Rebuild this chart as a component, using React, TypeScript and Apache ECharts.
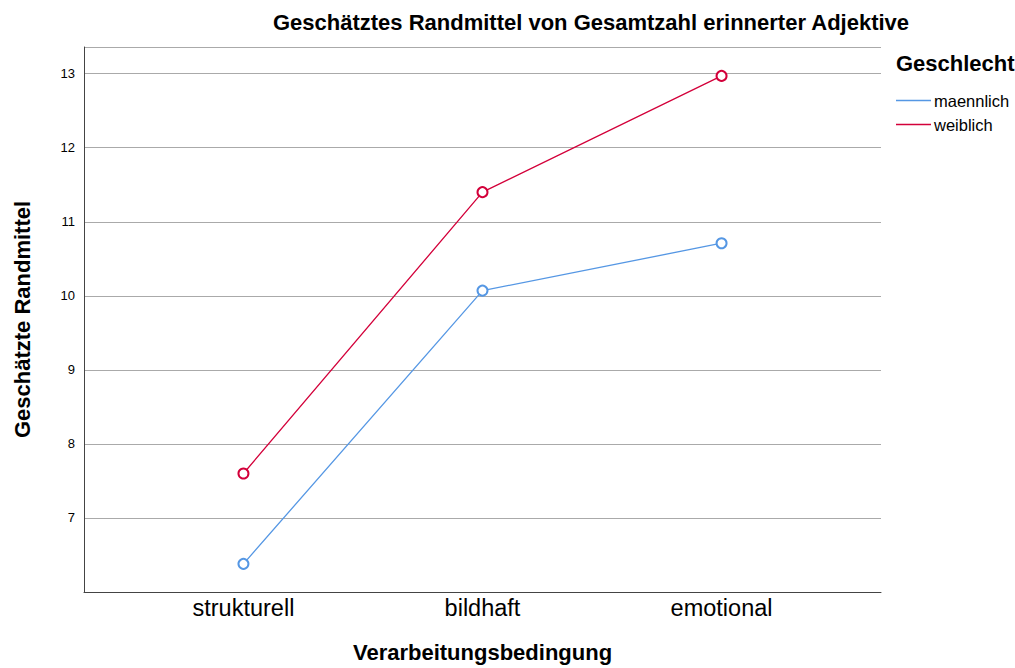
import React, { useEffect, useRef } from "react";
import * as echarts from "echarts";

const categories = ["strukturell", "bildhaft", "emotional"];
const maennlich = [6.38, 10.07, 10.71];
const weiblich = [7.6, 11.4, 12.97];
const seriesNames = ["maennlich", "weiblich"];
const colors = ["#5597E4", "#D3003A"];
const FONT = "'Liberation Sans', Arial, Helvetica, sans-serif";

export default function App() {
  const ref = useRef<HTMLDivElement>(null);
  useEffect(() => {
    if (!ref.current) return;
    const chart = echarts.init(ref.current, undefined, { renderer: "svg" });
    const mk = (name: string, vals: number[], color: string) => ({
      name,
      type: "line",
      data: vals.map((v, i) => [i, v]),
      symbol: "emptyCircle",
      symbolSize: 10,
      lineStyle: { color, width: 1.3 },
      itemStyle: { color, borderColor: color, borderWidth: 1.3 },
      emphasis: { disabled: true },
    });
    chart.setOption({
      animation: false,
      backgroundColor: "#ffffff",
      textStyle: { fontFamily: FONT },
      title: [
        {
          text: "Geschätztes Randmittel von Gesamtzahl erinnerter Adjektive",
          left: 586,
          top: 6,
          textAlign: "center",
          textStyle: { fontFamily: FONT, fontSize: 22, fontWeight: "bold", color: "#000" },
        },
        {
          text: "Geschlecht",
          left: 891,
          top: 47,
          textStyle: { fontFamily: FONT, fontSize: 22, fontWeight: "bold", color: "#000" },
        },
      ],
      legend: {
        orient: "vertical",
        left: 891,
        top: 87,
        itemWidth: 35,
        itemHeight: 1.3,
        itemGap: 7,
        icon: "rect",
        itemStyle: { borderWidth: 0 },
        data: seriesNames.map((n, i) => ({
          name: n,
          itemStyle: { color: colors[i], borderWidth: 0 },
        })),
        textStyle: { fontFamily: FONT, fontSize: 16.5, color: "#000", padding: [0, 0, 0, -2] },
      },
      grid: { left: 84, right: 134, top: 47, bottom: 71, containLabel: false },
      xAxis: {
        type: "value",
        min: -0.667,
        max: 2.667,
        name: "Verarbeitungsbedingung",
        nameLocation: "middle",
        nameGap: 49,
        nameTextStyle: { fontFamily: FONT, fontSize: 22, fontWeight: "bold", color: "#000" },
        axisLine: { show: true, onZero: false, lineStyle: { color: "#444", width: 1 } },
        axisTick: { show: false },
        splitLine: { show: false },
        axisLabel: {
          customValues: [0, 1, 2],
          formatter: (v: number) => categories[Math.round(v)] ?? "",
          fontFamily: FONT,
          fontSize: 23.5,
          color: "#000",
          margin: 4,
        },
      },
      yAxis: {
        type: "value",
        min: 6,
        max: 13.36,
        interval: 1,
        name: "Geschätzte Randmittel",
        nameLocation: "middle",
        nameGap: 51,
        nameTextStyle: { fontFamily: FONT, fontSize: 22, fontWeight: "bold", color: "#000" },
        axisLine: { show: true, onZero: false, lineStyle: { color: "#444", width: 1 } },
        axisTick: { show: false },
        splitLine: { show: true, lineStyle: { color: "#aaaaaa", width: 1 } },
        axisLabel: {
          showMinLabel: false,
          showMaxLabel: false,
          fontFamily: FONT,
          fontSize: 13,
          color: "#000",
          margin: 9,
        },
      },
      series: [mk(seriesNames[0], maennlich, colors[0]), mk(seriesNames[1], weiblich, colors[1])],
    });
    return () => chart.dispose();
  }, []);
  return (
    <div
      ref={ref}
      style={{ position: "fixed", left: 0, top: 0, width: 1015, height: 668 }}
    />
  );
}
